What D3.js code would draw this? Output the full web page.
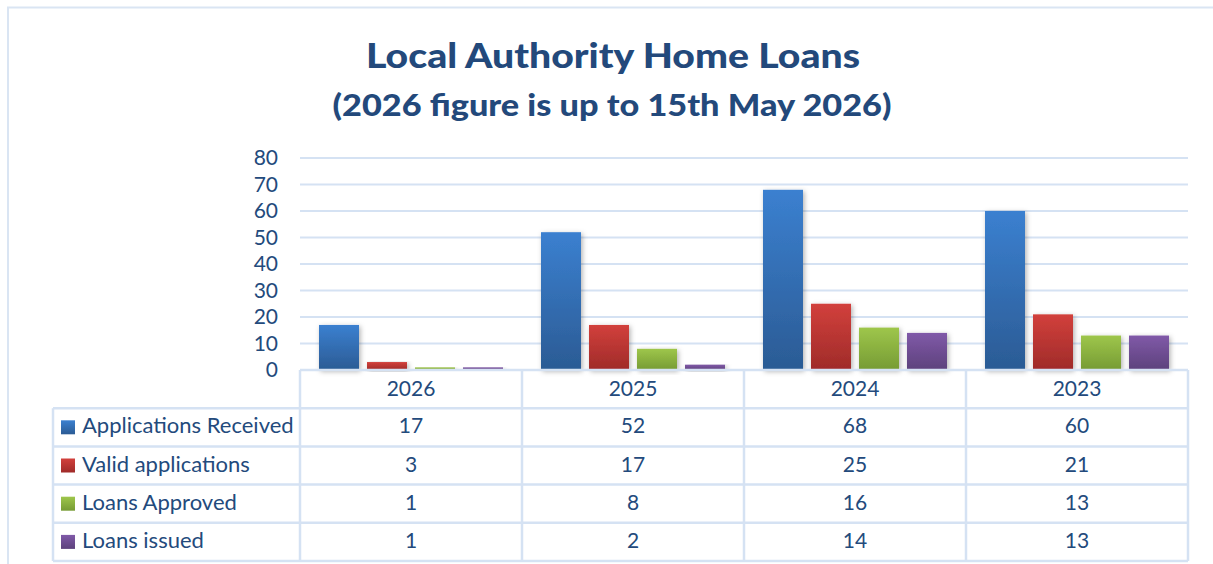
<!DOCTYPE html>
<html>
<head>
<meta charset="utf-8">
<script src="https://cdn.jsdelivr.net/npm/d3@7"></script>
<style>
  html, body { margin: 0; padding: 0; background: #fff; }
  svg { display: block; font-family: Lato, "Open Sans", sans-serif; }
</style>
</head>
<body>
<div id="chart"></div>
<script>
// chart data
var years = ["2026", "2025", "2024", "2023"];
var seriesNames = ["Applications Received", "Valid applications", "Loans Approved", "Loans issued"];
var applicationsReceived = [17, 52, 68, 60];
var validApplications = [3, 17, 25, 21];
var loansApproved = [1, 8, 16, 13];
var loansIssued = [1, 2, 14, 13];
var yTicks = [0, 10, 20, 30, 40, 50, 60, 70, 80];

var seriesValues = [applicationsReceived, validApplications, loansApproved, loansIssued];

// gradient colours per series (top, bottom)
var colors = [
    ["#3b80d0", "#2b5b94"],
    ["#d2403c", "#9f2b29"],
    ["#9ec64b", "#769b34"],
    ["#8059a8", "#5d427c"]
];
var textColor = "#234a7c";
var lineColor = "#d5e2f3";

var W = 1213, H = 564;
var plotLeft = 300, plotRight = 1188, plotTop = 158, plotBottom = 370;
var rowH = 38.2;

var svg = d3.select("#chart").append("svg")
    .attr("width", W)
    .attr("height", H);

var defs = svg.append("defs");
colors.forEach(function (c, i) {
    var g = defs.append("linearGradient")
        .attr("id", "grad" + i)
        .attr("x1", 0).attr("y1", 0).attr("x2", 0).attr("y2", 1);
    g.append("stop").attr("offset", "0%").attr("stop-color", c[0]);
    g.append("stop").attr("offset", "100%").attr("stop-color", c[1]);
});
var shadow = defs.append("filter").attr("id", "shadow")
    .attr("x", "-30%").attr("y", "-10%").attr("width", "160%").attr("height", "130%");
shadow.append("feDropShadow")
    .attr("dx", 1.5).attr("dy", 1.5).attr("stdDeviation", 2.5)
    .attr("flood-color", "#000").attr("flood-opacity", 0.3);

// outer border
svg.append("rect")
    .attr("x", 8).attr("y", 7.5)
    .attr("width", W + 20).attr("height", H + 20)
    .attr("fill", "none")
    .attr("stroke", "#dae5f3")
    .attr("stroke-width", 2);

// title
svg.append("text")
    .attr("x", 613).attr("y", 68)
    .attr("text-anchor", "middle")
    .attr("font-size", 35).attr("font-weight", "900")
    .attr("fill", "#23497b")
    .attr("textLength", 494).attr("lengthAdjust", "spacingAndGlyphs")
    .text("Local Authority Home Loans");
svg.append("text")
    .attr("x", 612).attr("y", 116)
    .attr("text-anchor", "middle")
    .attr("font-size", 31).attr("font-weight", "900")
    .attr("fill", "#23497b")
    .attr("textLength", 559).attr("lengthAdjust", "spacingAndGlyphs")
    .text("(2026 figure is up to 15th May 2026)");

// scales
var x = d3.scaleBand()
    .domain(years)
    .range([plotLeft, plotRight])
    .padding(0);

var xSub = d3.scaleBand()
    .domain(d3.range(seriesNames.length))
    .range([0, x.bandwidth()])
    .paddingInner(8 / 48)
    .paddingOuter(19 / 48);

var y = d3.scaleLinear()
    .domain([0, 80])
    .range([plotBottom, plotTop]);

// gridlines
svg.append("g")
    .selectAll("line")
    .data(yTicks.slice(1))
    .enter()
    .append("line")
    .attr("x1", plotLeft).attr("x2", plotRight)
    .attr("y1", function (d) { return y(d); })
    .attr("y2", function (d) { return y(d); })
    .attr("stroke", lineColor)
    .attr("stroke-width", 2);

// y axis labels
var yAxis = svg.append("g")
    .attr("transform", "translate(" + (plotLeft + 2) + ",0)")
    .call(d3.axisLeft(y).tickValues(yTicks).tickSize(0).tickPadding(24));
yAxis.select(".domain").remove();
yAxis.selectAll("text")
    .attr("font-family", "Lato, 'Open Sans', sans-serif")
    .attr("font-size", 21)
    .attr("fill", textColor);

// bars
var groups = svg.append("g")
    .selectAll("g")
    .data(years)
    .enter()
    .append("g")
    .attr("transform", function (d) { return "translate(" + x(d) + ",0)"; });

groups.selectAll("rect")
    .data(function (d, i) {
        return seriesValues.map(function (vals, s) { return { s: s, v: vals[i] }; });
    })
    .enter()
    .append("rect")
    .attr("x", function (d) { return xSub(d.s); })
    .attr("width", xSub.bandwidth())
    .attr("y", function (d) { return y(d.v); })
    .attr("height", function (d) { return plotBottom - y(d.v); })
    .attr("fill", function (d) { return "url(#grad" + d.s + ")"; })
    .attr("filter", "url(#shadow)");

// data table
var tableLeft = 53;
var table = svg.append("g");
var rowY = function (r) { return plotBottom + rowH * r; }; // r = 0 header top

// horizontal lines
table.append("line")
    .attr("x1", plotLeft).attr("x2", plotRight)
    .attr("y1", rowY(0)).attr("y2", rowY(0))
    .attr("stroke", lineColor).attr("stroke-width", 2.5);
for (var r = 1; r <= seriesNames.length + 1; r++) {
    table.append("line")
        .attr("x1", tableLeft).attr("x2", plotRight)
        .attr("y1", rowY(r)).attr("y2", rowY(r))
        .attr("stroke", lineColor).attr("stroke-width", 2.5);
}
// vertical lines
table.append("line")
    .attr("x1", tableLeft).attr("x2", tableLeft)
    .attr("y1", rowY(1)).attr("y2", rowY(seriesNames.length + 1))
    .attr("stroke", lineColor).attr("stroke-width", 2.5);
years.concat(["end"]).forEach(function (yr, i) {
    var xx = i < years.length ? x(yr) : plotRight;
    table.append("line")
        .attr("x1", xx).attr("x2", xx)
        .attr("y1", rowY(0)).attr("y2", rowY(seriesNames.length + 1))
        .attr("stroke", lineColor).attr("stroke-width", 2.5);
});

// header years
table.selectAll(".year")
    .data(years)
    .enter()
    .append("text")
    .attr("class", "year")
    .attr("x", function (d) { return x(d) + x.bandwidth() / 2; })
    .attr("y", rowY(0) + rowH / 2 + 7)
    .attr("text-anchor", "middle")
    .attr("font-size", 21)
    .attr("fill", textColor)
    .text(function (d) { return d; });

// series rows
seriesNames.forEach(function (name, s) {
    var top = rowY(s + 1);
    table.append("rect")
        .attr("x", 61).attr("y", top + rowH / 2 - 7)
        .attr("width", 14).attr("height", 14)
        .attr("fill", "url(#grad" + s + ")");
    table.append("text")
        .attr("x", 82).attr("y", top + rowH / 2 + 6)
        .attr("font-size", 22)
        .attr("fill", textColor)
        .text(name);
    table.selectAll(".v" + s)
        .data(seriesValues[s])
        .enter()
        .append("text")
        .attr("x", function (d, i) { return x(years[i]) + x.bandwidth() / 2; })
        .attr("y", top + rowH / 2 + 6)
        .attr("text-anchor", "middle")
        .attr("font-size", 21)
        .attr("fill", textColor)
        .text(function (d) { return d; });
});
</script>
</body>
</html>
